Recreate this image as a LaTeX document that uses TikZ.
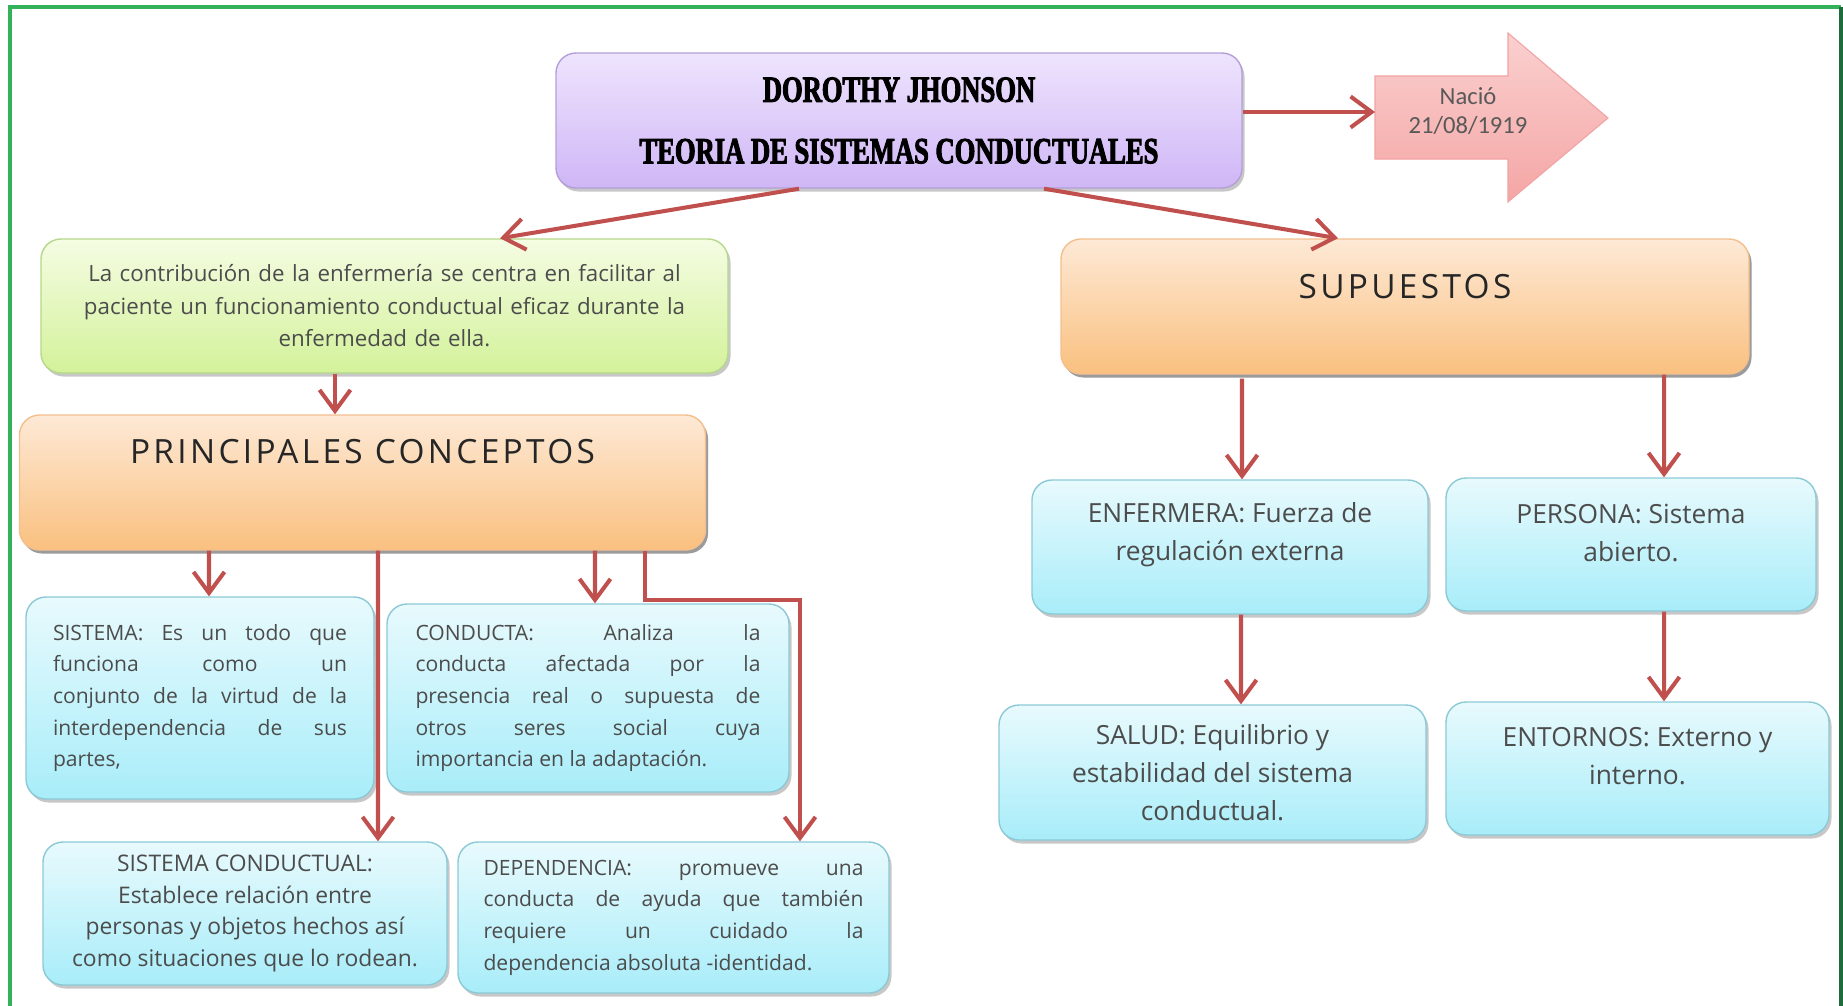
\documentclass[tikz,border=0pt]{standalone}
\usepackage{fontspec}
\setmainfont{Open Sans}
\newfontfamily\titlefont[FakeStretch=0.72,FakeBold=2.5]{Liberation Serif Bold}
\newfontfamily\datefont{Carlito}
\newfontfamily\headfont[LetterSpace=10]{Open Sans}
\usepackage{tikz}
\usetikzlibrary{arrows.meta,positioning,shadows}
\definecolor{linkred}{HTML}{C0504D}
\definecolor{titletop}{HTML}{EEE4FD}
\definecolor{titlebot}{HTML}{CFB6F6}
\definecolor{titleline}{HTML}{B49FD9}
\definecolor{greentop}{HTML}{F5FCE3}
\definecolor{greenbot}{HTML}{D3F29A}
\definecolor{greenline}{HTML}{B5D88A}
\definecolor{orangetop}{HTML}{FDE9D6}
\definecolor{orangebot}{HTML}{FAC07F}
\definecolor{orangeline}{HTML}{F3BF8E}
\definecolor{bluetop}{HTML}{E8FAFD}
\definecolor{bluebot}{HTML}{A8EDF9}
\definecolor{blueline}{HTML}{8CC9D6}
\definecolor{pinktop}{HTML}{FAD0CF}
\definecolor{pinkbot}{HTML}{F4A6A5}
\definecolor{pinkline}{HTML}{F2A2A2}
\definecolor{framegreen}{HTML}{33B25A}
\definecolor{framedark}{HTML}{1E6B3C}
\tikzstyle{box} = [rectangle, rounded corners=0.4cm, line width=0.8pt, drop shadow={shadow xshift=0.05cm, shadow yshift=-0.07cm, opacity=0.22, fill=black}]
\tikzstyle{titlebox} = [box, draw=titleline, top color=titletop, bottom color=titlebot, align=center, minimum width=13.72cm, minimum height=2.7cm, font=\titlefont\fontsize{21}{35}\selectfont]
\tikzstyle{greenbox} = [box, draw=greenline, top color=greentop, bottom color=greenbot, align=center, text width=13.2cm, minimum width=13.74cm, minimum height=2.68cm, text=black!70, font=\fontsize{12.7}{18.5}\selectfont]
\tikzstyle{orangebox} = [box, draw=orangeline, top color=orangetop, bottom color=orangebot, minimum width=13.72cm, minimum height=2.7cm]
\tikzstyle{bluebox} = [box, draw=blueline, top color=bluetop, bottom color=bluebot, text=black!70, font=\fontsize{12}{18}\selectfont]
\tikzstyle{righttext} = [align=center, text=black!70, font=\fontsize{15}{21.5}\selectfont]
\tikzstyle{headtext} = [inner sep=0pt, text=black!85, font=\headfont\fontsize{19}{19}\selectfont]
\tikzstyle{link} = [draw=linkred, line width=2.3pt, -{Straight Barb[length=0.42cm,width=0.62cm]}]

\begin{document}
\begin{tikzpicture}
    \useasboundingbox (0,0) rectangle (36.86,-20.12);
    % marco
    \draw[framegreen, line width=1.8pt] (0.2,-20.12) -- (0.2,-0.14) -- (36.82,-0.14);
    \draw[framedark, line width=1.8pt] (36.82,-0.14) -- (36.82,-20.12);

    % titulo
    \node[titlebox] (title) at (17.98,-2.41) {DOROTHY JHONSON\\TEORIA DE SISTEMAS CONDUCTUALES};
    \draw[draw=pinkline, top color=pinktop, bottom color=pinkbot, line width=0.6pt]
        (27.50,-1.52) -- (30.16,-1.52) -- (30.16,-0.66) -- (32.16,-2.36)
        -- (30.16,-4.04) -- (30.16,-3.18) -- (27.50,-3.18) -- cycle;
    \coordinate (nacio tail) at (27.50,-2.24);
    \node[align=center, text=black!65, font=\datefont\fontsize{14}{16.5}\selectfont] (nacio) at (29.36,-2.22) {Nació\\21/08/1919};
    \draw[link] (title.east |- nacio tail) -- (nacio tail);

    % rama izquierda
    \node[greenbox] (aporte) at (7.69,-6.12) {La contribución de la enfermería se centra en facilitar al\\paciente un funcionamiento conductual eficaz durante la\\enfermedad de ella.};
    \node[box, orangebox] (principales) at (7.25,-9.65) {};
    \node[headtext, below=0.5cm of principales.north] (principales text) {PRINCIPALES CONCEPTOS};
    \node[bluebox, align=justify, text width=5.88cm, minimum width=6.96cm, minimum height=4.04cm] (sistema) at (4.00,-13.96)
        {SISTEMA: Es un todo que\linebreak funciona como un\linebreak conjunto de la virtud de la\linebreak interdependencia de sus\linebreak partes,};
    \node[bluebox, align=justify, text width=6.9cm, minimum width=8.04cm, minimum height=3.76cm] (conducta) at (11.76,-13.96)
        {CONDUCTA: Analiza la\linebreak conducta afectada por la\linebreak presencia real o supuesta de\linebreak otros seres social cuya\linebreak importancia en la adaptación.};
    \node[bluebox, align=center, minimum width=8.08cm, minimum height=2.86cm, font=\fontsize{13}{18}\selectfont] (sisconductual) at (4.90,-18.27)
        {SISTEMA CONDUCTUAL:\\Establece relación entre\\personas y objetos hechos así\\como situaciones que lo rodean.};
    \node[bluebox, align=justify, text width=7.6cm, minimum width=8.62cm, minimum height=3.02cm] (dependencia) at (13.47,-18.35)
        {DEPENDENCIA: promueve una\linebreak conducta de ayuda que también\linebreak requiere un cuidado la\linebreak dependencia absoluta -identidad.};

    % rama derecha
    \node[box, orangebox, minimum width=13.76cm] (supuestos) at (28.10,-6.13) {};
    \node[headtext, below=0.72cm of supuestos.north] (supuestos text) {SUPUESTOS};
    \node[bluebox, minimum width=7.92cm, minimum height=2.68cm] (enfermera) at (24.60,-10.94) {};
    \node[righttext, yshift=0.24cm] (enfermera text) at (enfermera) {ENFERMERA: Fuerza de\\regulación externa};
    \node[bluebox, minimum width=7.40cm, minimum height=2.66cm] (persona) at (32.62,-10.89) {};
    \node[righttext, yshift=0.23cm] (persona text) at (persona) {PERSONA: Sistema\\abierto.};
    \node[bluebox, minimum width=8.54cm, minimum height=2.70cm] (salud) at (24.25,-15.45) {};
    \node[righttext] (salud text) at (salud) {SALUD: Equilibrio y\\estabilidad del sistema\\conductual.};
    \node[bluebox, minimum width=7.66cm, minimum height=2.66cm] (entornos) at (32.75,-15.37) {};
    \node[righttext, yshift=0.24cm] (entornos text) at (entornos) {ENTORNOS: Externo y\\interno.};

    % conectores
    \draw[link] ([xshift=-2cm]title.south) -- ([xshift=2.31cm]aporte.north);
    \draw[link] ([xshift=2.9cm]title.south) -- ([xshift=-1.34cm]supuestos.north);
    \draw[link] ([xshift=-0.99cm]aporte.south) -- ([xshift=-0.55cm]principales.north);
    \draw[link] ([xshift=-3.07cm]principales.south) -- ([xshift=0.18cm]sistema.north);
    \draw[link] ([xshift=0.31cm]principales.south) -- ([xshift=2.66cm]sisconductual.north);
    \draw[link] ([xshift=4.65cm]principales.south) -- ([xshift=0.14cm]conducta.north);
    \draw[link] ([xshift=5.65cm]principales.south) -- ++(0,-0.98) -| ([xshift=2.53cm]dependencia.north);
    \draw[link] ([xshift=-3.26cm,yshift=-0.08cm]supuestos.south) -- ([xshift=0.24cm]enfermera.north);
    \draw[link] ([xshift=5.18cm]supuestos.south) -- ([xshift=0.66cm]persona.north);
    \draw[link] ([xshift=0.22cm]enfermera.south) -- ([xshift=0.57cm]salud.north);
    \draw[link] ([xshift=0.66cm]persona.south) -- ([xshift=0.53cm]entornos.north);
\end{tikzpicture}
\end{document}
